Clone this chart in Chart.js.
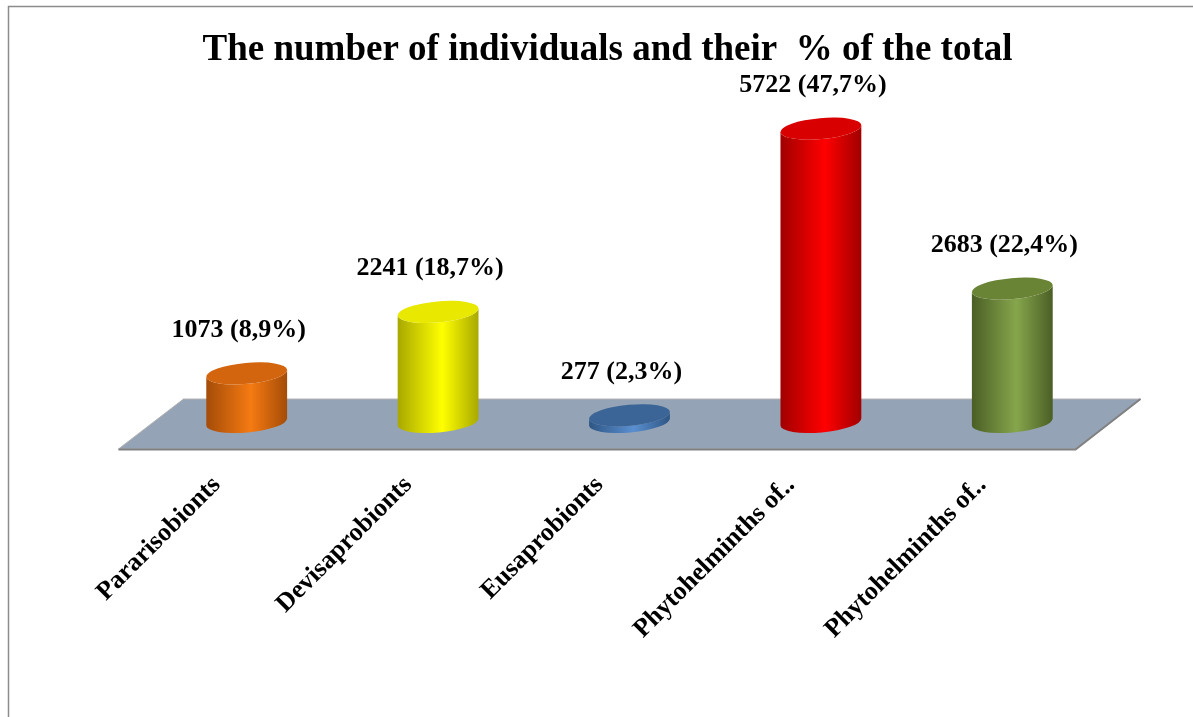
<!DOCTYPE html>
<html>
<head>
<meta charset="utf-8">
<script src="https://cdn.jsdelivr.net/npm/chart.js@4.4.0/dist/chart.umd.min.js"></script>
<style>
  html, body { margin: 0; padding: 0; background: #fff; }
</style>
</head>
<body>
<canvas id="myChart" width="1193" height="717"></canvas>
<script>
var categories = ['Pararisobionts', 'Devisaprobionts', 'Eusaprobionts', 'Phytohelminths of..', 'Phytohelminths of..'];
var values = [1073, 2241, 277, 5722, 2683];
var percents = ['8,9%', '18,7%', '2,3%', '47,7%', '22,4%'];

var lightColors = ['#F57A12', '#FFFF00', '#5A8FD0', '#FF0000', '#86A64C'];
var darkColors = ['#A44C08', '#A8A800', '#2E5684', '#A00000', '#4A5E25'];
var topColors = ['#D2650E', '#E8E800', '#3B6596', '#D80000', '#6A8436'];

var tilt = -0.09;

// draws the frame, the grey floor and the cylinders on top of the (invisible) bars
var cylinders = {
  id: 'cylinders',
  beforeDraw(chart) {
    var c = chart.ctx
    c.save()
    c.fillStyle = '#fff'
    c.fillRect(0, 0, chart.width, chart.height)
    c.strokeStyle = '#8c8c8c'
    c.lineWidth = 1.5
    c.beginPath()
    c.moveTo(8.5, chart.height)
    c.lineTo(8.5, 6.5)
    c.lineTo(chart.width, 6.5)
    c.stroke()
    c.restore()
  },
  beforeDatasetsDraw(chart) {
    var c = chart.ctx
    var a = chart.chartArea
    var y0 = a.bottom + 2
    var depth = 25, shift = 32.5
    c.save()
    c.beginPath()
    c.moveTo(a.left + shift, y0 - depth)
    c.lineTo(a.right + shift, y0 - depth)
    c.lineTo(a.right - shift, y0 + depth)
    c.lineTo(a.left - shift, y0 + depth)
    c.closePath()
    c.fillStyle = '#95A3B6'
    c.fill()
    c.strokeStyle = '#b4b4b4'
    c.lineWidth = 1
    c.stroke()
    c.beginPath()
    c.moveTo(a.left - shift, y0 + depth + 0.5)
    c.lineTo(a.right - shift, y0 + depth + 0.5)
    c.lineTo(a.right + shift, y0 - depth)
    c.strokeStyle = '#808080'
    c.lineWidth = 2
    c.stroke()
    c.restore()
  },
  afterDatasetsDraw(chart) {
    var c = chart.ctx
    var meta = chart.getDatasetMeta(0)
    c.save()
    meta.data.forEach(function (bar, i) {
      var p = bar.getProps(['x', 'y', 'base', 'width'], true)
      var rx = p.width / 2, ry = 10.5
      var cx = p.x, top = p.y, bot = p.base
      var dx = rx * Math.cos(tilt), dy = rx * Math.sin(tilt)

      var g = c.createLinearGradient(cx - rx, 0, cx + rx, 0)
      g.addColorStop(0, darkColors[i])
      g.addColorStop(0.55, lightColors[i])
      g.addColorStop(1, darkColors[i])
      c.beginPath()
      c.moveTo(cx - dx, top - dy)
      c.lineTo(cx - dx, bot - dy)
      c.ellipse(cx, bot, rx, ry, tilt, Math.PI, 0, true)
      c.lineTo(cx + dx, top + dy)
      c.ellipse(cx, top, rx, ry, tilt, 0, Math.PI, false)
      c.closePath()
      c.fillStyle = g
      c.fill()

      c.beginPath()
      c.ellipse(cx, top, rx, ry, tilt, 0, 2 * Math.PI)
      c.fillStyle = topColors[i]
      c.fill()

      c.fillStyle = '#000'
      c.font = 'bold 26px "Liberation Serif"'
      c.textAlign = 'center'
      c.textBaseline = 'middle'
      c.fillText(values[i] + ' (' + percents[i] + ')', cx - 8, top - ry - 33)
    })
    c.restore()
  }
}

const ctx = document.getElementById('myChart');

new Chart(ctx, {
  type: 'bar',
  data: {
    labels: categories,
    datasets: [{
      data: values,
      base: 150,
      backgroundColor: 'rgba(0,0,0,0)',
      borderWidth: 0,
      categoryPercentage: 1,
      barPercentage: 0.424
    }]
  },
  options: {
    responsive: false,
    animation: false,
    devicePixelRatio: 1,
    layout: { padding: { top: 10, left: 22, right: 0, bottom: 0 } },
    plugins: {
      legend: { display: false },
      tooltip: { enabled: false },
      title: {
        display: true,
        text: 'The number of individuals and their  % of the total',
        color: '#000',
        font: { family: '"Liberation Serif"', size: 37, weight: 'bold' },
        padding: { top: 18, bottom: 41.6 }
      }
    },
    scales: {
      x: {
        grid: { display: false },
        border: { display: false },
        ticks: {
          color: '#000',
          font: { family: '"Liberation Serif"', size: 26, weight: 'bold' },
          minRotation: 45,
          maxRotation: 45,
          autoSkip: false,
          labelOffset: -30,
          padding: 40
        },
        afterFit: function (s) { s.height = 295 }
      },
      y: {
        min: 150,
        max: 6000,
        grid: { display: false },
        border: { display: false },
        ticks: { display: false },
        afterFit: function (s) { s.width = 129 }
      },
      y2: {
        type: 'linear',
        position: 'right',
        grid: { display: false },
        border: { display: false },
        ticks: { display: false },
        afterFit: function (s) { s.width = 85 }
      }
    }
  },
  plugins: [cylinders]
});
</script>
</body>
</html>
